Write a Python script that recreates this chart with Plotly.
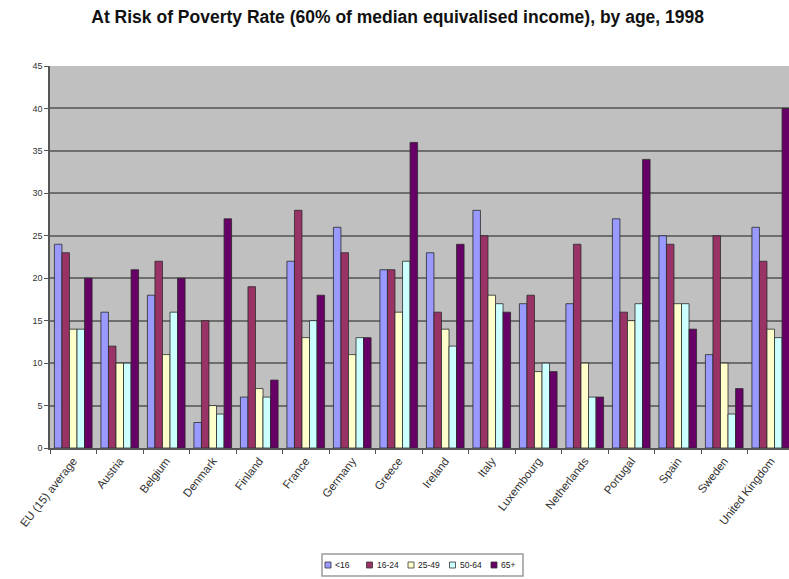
import plotly.graph_objects as go

# At-risk-of-poverty rate by age group, 1998 (percent)
countries = ["EU (15) average", "Austria", "Belgium", "Denmark", "Finland", "France",
             "Germany", "Greece", "Ireland", "Italy", "Luxembourg", "Netherlands",
             "Portugal", "Spain", "Sweden", "United Kingdom"]
age_groups = ["<16", "16-24", "25-49", "50-64", "65+"]

under16 = [24, 16, 18, 3, 6, 22, 26, 21, 23, 28, 17, 17, 27, 25, 11, 26]
age16_24 = [23, 12, 22, 15, 19, 28, 23, 21, 16, 25, 18, 24, 16, 24, 25, 22]
age25_49 = [14, 10, 11, 5, 7, 13, 11, 16, 14, 18, 9, 10, 15, 17, 10, 14]
age50_64 = [14, 10, 16, 4, 6, 15, 13, 22, 12, 17, 10, 6, 17, 17, 4, 13]
age65plus = [20, 21, 20, 27, 8, 18, 13, 36, 24, 16, 9, 6, 34, 14, 7, 40]

y_ticks = [0, 5, 10, 15, 20, 25, 30, 35, 40, 45]

series = [under16, age16_24, age25_49, age50_64, age65plus]
colors = ["#9999FF", "#993366", "#FFFFCC", "#CCFFFF", "#660066"]

FONT = "Liberation Sans, Arial, sans-serif"

fig = go.Figure()
for name, vals, col in zip(age_groups, series, colors):
    fig.add_trace(go.Bar(
        x=countries, y=vals, name=name,
        marker=dict(color=col, line=dict(color="#2a2a2a", width=0.8)),
        showlegend=False,
    ))

# Boxed legend along the bottom edge
W, H = 789, 579
L, R, T, B = 50, 0, 66, 131
pw, ph = W - L - R, H - T - B


def px(x):
    return (x - L) / pw


def py(y):
    return (H - B - y) / ph


shapes = [dict(type="rect", xref="paper", yref="paper",
               x0=px(322), x1=px(523), y0=py(554), y1=py(576),
               line=dict(color="#9a9a9a", width=1.5), fillcolor="white")]
annotations = []
x_item = 325
step = 41.5
for name, col in zip(age_groups, colors):
    shapes.append(dict(type="rect", xref="paper", yref="paper",
                       x0=px(x_item), x1=px(x_item + 6), y0=py(562), y1=py(568),
                       line=dict(color="#333", width=0.8), fillcolor=col))
    annotations.append(dict(text=name, xref="paper", yref="paper",
                            x=px(x_item + 8), y=py(565), xanchor="left", yanchor="middle",
                            showarrow=False, font=dict(family=FONT, size=8.5, color="#222")))
    x_item += step

fig.update_layout(
    width=W, height=H,
    margin=dict(l=L, r=R, t=T, b=B, pad=0),
    paper_bgcolor="white",
    plot_bgcolor="#C0C0C0",
    barmode="group",
    bargap=0.19,
    bargroupgap=0,
    title=dict(text="<b>At Risk of Poverty Rate (60% of median equivalised income), by age, 1998</b>",
               x=0.504, xref="container", xanchor="center",
               y=1 - 17 / H, yref="container", yanchor="middle",
               font=dict(family=FONT, size=17.5, color="#111")),
    font=dict(family=FONT, color="#222"),
    shapes=shapes,
    annotations=annotations,
)

fig.update_xaxes(
    type="category",
    range=[-0.5, -0.5 + pw / 46.5],
    tickangle=-52,
    tickson="boundaries",
    ticks="outside", ticklen=4, tickcolor="#555",
    tickfont=dict(family=FONT, size=11.5, color="#333"),
    showgrid=False,
    showline=True, linecolor="#555", linewidth=1.5,
)
fig.update_yaxes(
    range=[0, 45],
    tickvals=y_ticks,
    ticks="outside", ticklen=4, tickcolor="#555",
    tickfont=dict(family=FONT, size=9, color="#333"),
    showgrid=True, gridcolor="#6E6E6E", gridwidth=2.2,
    showline=True, linecolor="#555", linewidth=1.5,
    zeroline=False,
)

fig.write_html("out.html")
